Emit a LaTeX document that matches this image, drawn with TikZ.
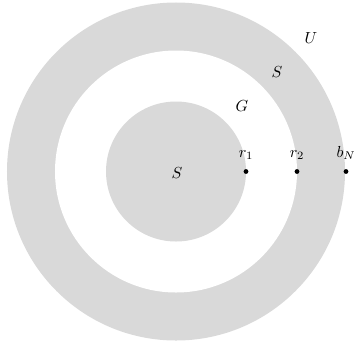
\documentclass[tikz,border=0pt]{standalone}
\usepackage{tikz}
\usetikzlibrary{positioning}
\definecolor{ringgray}{HTML}{D9D9D9}
\tikzset{
  ringfill/.style={fill=ringgray, draw=none},
  holefill/.style={fill=white, draw=none},
  radiusdot/.style={circle, fill=black, inner sep=0pt, minimum size=3pt},
  regionlabel/.style={inner sep=1pt}
}

\begin{document}
\begin{tikzpicture}[x=0.625pt,y=0.625pt]
\useasboundingbox (-176,-173.5) rectangle (182,171.5);
% rings
\path[ringfill] (0,0) circle (169);
\path[holefill] (0,0) circle (121);
\path[ringfill] (0,0) circle (70);
% region names
\node[regionlabel] (core) at (1,-1.5) {$S$};
\node[regionlabel] (gap) at (66,65.5) {$G$};
\node[regionlabel] (shell) at (101,99.5) {$S$};
\node[regionlabel] (outside) at (135,133.5) {$U$};
% radii
\node[radiusdot, label={[label distance=2pt]above:$r_1$}] (rone) at (70,0) {};
\node[radiusdot, label={[label distance=2pt]above:$r_2$}] (rtwo) at (121,0) {};
\node[radiusdot, label={[label distance=2pt]above:$b_N$}] (bN) at (170,0) {};
\end{tikzpicture}
\end{document}
